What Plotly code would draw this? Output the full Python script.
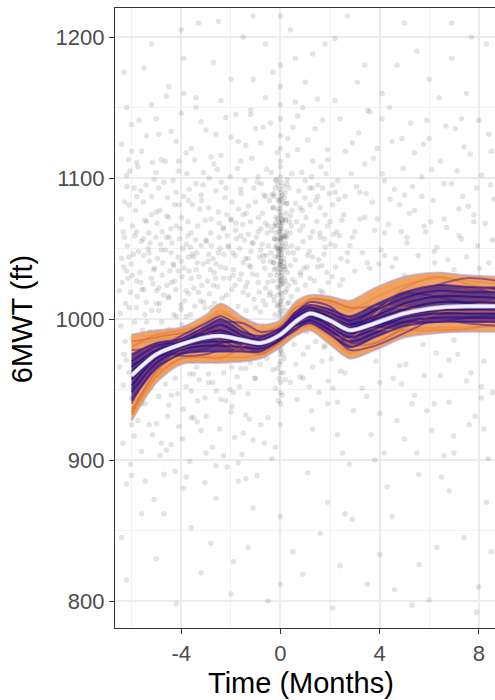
import plotly.graph_objects as go

# ---- observed 6MWT measurements (time in months, distance in ft) ----
cloud = [
    (-6.4,1043),(-6.1,1008),(-5.8,1062),(-5.5,1021),(-5.2,1087),(-6.3,975),(-5.9,951),(-5.4,998),(-5.1,1035),(-6.2,1102),
    (-5.7,1141),(-5.3,925),(-6.0,889),(-5.6,1055),(-5.0,1011),(-6.5,1020),(-5.8,1027),(-5.4,1069),(-6.1,1081),(-5.2,962),
    (-5.9,1093),(-6.4,845),(-5.5,1178),(-5.1,872),(-6.2,1034),(-5.7,988),(-5.3,1047),(-6.0,1119),(-5.6,940),(-5.0,1076),
    (-4.9,1022),(-4.6,1058),(-4.3,1003),(-4.0,1041),(-3.7,1084),(-4.8,968),(-4.5,1015),(-4.2,1066),(-3.9,992),(-3.6,1029),
    (-4.7,1097),(-4.4,946),(-4.1,1112),(-3.8,1053),(-3.5,961),(-4.9,1131),(-4.6,907),(-4.3,1038),(-4.0,1007),(-3.7,1018),
    (-4.8,1049),(-4.5,1072),(-4.2,985),(-3.9,1160),(-3.6,930),(-4.4,1026),(-4.1,1081),(-3.8,1002),(-3.5,1044),(-4.7,862),
    (-4.0,1205),(-3.6,1061),
    (-3.4,1035),(-3.1,1012),(-2.8,1071),(-2.5,1047),(-2.2,1093),(-3.3,978),(-3.0,1056),(-2.7,1024),(-2.4,1116),(-2.1,1004),
    (-3.2,1088),(-2.9,955),(-2.6,1039),(-2.3,1064),(-3.4,1150),(-3.0,931),(-2.7,1182),(-2.4,990),(-2.1,1052),(-3.3,1019),
    (-2.8,1008),(-2.5,1076),(-2.2,942),(-3.1,1104),(-2.6,873),(-2.3,1029),(-2.0,1070),(-3.2,820),(-2.9,1046),(-2.5,1211),
    (-1.9,1031),(-1.6,1059),(-1.3,1017),(-1.0,1083),(-0.7,1045),(-1.8,996),(-1.5,1074),(-1.2,1037),(-0.9,1101),(-0.6,1010),
    (-1.7,1126),(-1.4,965),(-1.1,1054),(-0.8,982),(-0.5,1066),(-1.9,948),(-1.6,1092),(-1.3,1043),(-1.0,1008),(-0.7,1136),
    (-1.8,1068),(-1.5,919),(-1.2,1145),(-0.9,1026),(-0.6,1087),(-1.4,1023),(-1.1,1170),(-0.8,1049),(-1.7,885),(-1.0,958),
    (-0.6,1195),(-1.3,838),(-0.9,1062),(-1.5,1040),(-0.7,995),
    (-0.05,1062),(0.02,1041),(0.0,1019),(-0.1,1078),(0.05,1033),(0.0,1050),(-0.02,1005),(0.08,1068),(0.0,1090),(-0.06,1027),
    (0.03,987),(0.0,1012),(-0.08,1045),(0.06,1058),(0.0,1074),(-0.03,1036),(0.01,996),(0.0,1055),(-0.12,1023),(0.1,1049),
    (0.0,1066),(0.02,978),(-0.04,1002),(0.0,1030),(0.07,1015),(-0.09,1084),(0.0,1046),(0.04,1071),(0.0,962),(-0.02,1039),
    (0.0,1108),(0.05,1025),(-0.07,991),(0.0,1060),(0.12,1037),(0.0,948),(-0.15,1052),(0.0,1121),(0.09,1003),(0.0,1081),
    (-0.1,1010),(0.0,1043),(0.03,1097),(0.0,1028),(-0.2,1068),(0.2,1019),(0.0,940),(0.0,1152),(-0.25,1035),(0.25,1058),
    (0.0,925),(0.0,1180),(0.0,860),(0.0,812),(0.0,1215),(0.0,1006),(-0.01,1064),(0.01,1087),
    (-0.4,1041),(0.4,1073),(-0.35,1088),(0.35,1012),(0.45,1103),(-0.45,1017),(0.3,1128),(-0.3,964),(0.4,955),
    (0.6,1042),(0.9,1066),(1.2,1029),(1.5,1087),(1.8,1051),(0.7,1011),(1.0,1098),(1.3,1062),(1.6,1020),(1.9,1113),
    (0.8,1079),(1.1,1045),(1.4,1135),(1.7,1003),(2.0,1069),(0.6,1154),(0.9,958),(1.2,1081),(1.5,1037),(1.8,981),
    (0.7,1120),(1.0,1024),(1.3,1188),(1.6,1058),(1.9,940),(1.1,891),(1.4,1008),(0.8,1033),(1.7,1093),(0.5,835),
    (2.2,1052),(2.6,1087),(3.0,1034),(3.4,1110),(3.8,1063),(2.4,1142),(2.8,976),(3.2,1071),(3.6,1018),(2.1,1095),
    (2.5,1028),(2.9,1125),(3.3,951),(3.7,1083),(2.3,918),(2.7,1047),(3.1,1168),(3.5,1040),(3.9,1121),(2.2,1199),
    (2.6,862),(3.0,1010),(3.4,1072),(3.8,900),(2.8,1052),(3.6,1147),(2.4,825),(3.2,1090),
    (4.2,1045),(4.6,1092),(5.0,1031),(5.4,1118),(5.8,1066),(4.4,1150),(4.8,967),(5.2,1075),(5.6,1009),(4.1,1103),
    (4.5,1037),(4.9,1128),(5.3,940),(5.7,1087),(4.3,881),(4.7,1180),(5.1,1054),(5.5,905),(5.9,1141),(4.6,808),
    (5.0,1210),(5.4,1022),(4.2,1061),(5.8,960),
    (6.2,1048),(6.6,1096),(7.0,1035),(7.4,1122),(7.8,1069),(8.2,1010),(8.6,1085),(6.4,1157),(6.8,971),(7.2,1078),
    (7.6,925),(8.0,1141),(8.4,1040),(6.1,1106),(6.5,888),(6.9,1185),(7.3,1057),(7.7,1200),(8.1,952),(8.5,1119),
    (6.3,838),(7.1,1012),(7.9,1093),(8.3,870),(6.7,1065),
    (-6.2,815),(-5.0,830),(-4.2,798),(-3.6,852),(-2.0,805),(-1.1,866),(-0.5,800),(0.9,819),(1.6,848),(2.1,795),
    (3.5,812),(4.5,860),(5.6,826),(6.0,801),(7.4,845),(8.0,810),(-3.9,880),(-2.8,841),(1.9,870),(4.0,833),
    (6.8,878),(7.9,792),(-5.6,862),(-1.9,828),(2.9,858),(5.3,797),(8.5,835),
    (-6.0,925),(-4.8,912),(-3.0,905),(-1.4,932),(1.3,922),(2.5,905),(4.0,933),(5.0,915),(6.2,940),(7.0,905),(8.2,922),
    (-6.3,1175),(-5.2,1195),(-4.5,1165),(-3.3,1210),(-2.0,1170),(-1.5,1200),(-0.3,1175),(0.4,1205),(1.0,1168),(1.8,1195),
    (2.7,1215),(3.4,1180),(4.1,1160),(5.5,1190),(6.0,1170),(6.9,1210),(7.5,1160),(8.3,1195),(-1.1,1215),(0.6,1185),
    (2.2,1155),(-3.9,1185),
    # pre-baseline visits, 1000-1060 ft
    (-6.45,1004),(-6.32,1037),(-6.18,1052),(-6.05,1019),(-5.93,1046),(-5.81,1008),(-5.66,1033),(-5.52,1057),(-5.41,1012),(-5.28,1041),
    (-5.14,1025),(-5.02,1058),(-4.91,1006),(-4.77,1031),(-4.63,1049),(-4.52,1016),(-4.38,1054),(-4.27,1027),(-4.13,1044),(-4.01,1010),
    (-3.88,1036),(-3.74,1059),(-3.62,1003),(-3.49,1022),(-3.37,1047),(-3.23,1013),(-3.11,1039),(-2.98,1055),(-2.86,1018),(-2.72,1043),
    (-2.61,1029),(-2.47,1058),(-2.35,1015),(-2.21,1036),(-2.09,1051),(-1.96,1021),(-1.83,1045),(-1.71,1009),(-1.58,1032),(-1.46,1056),
    (-1.33,1026),(-1.19,1048),(-1.07,1014),(-6.38,1026),(-6.11,1044),(-5.87,1059),(-5.59,1021),(-5.33,1050),(-5.08,1036),(-4.84,1053),
    (-4.58,1024),(-4.33,1039),(-4.07,1057),(-3.81,1020),(-3.56,1046),(-3.29,1030),(-3.04,1008),(-2.79,1052),(-2.53,1023),(-2.28,1046),
    (-2.02,1005),(-1.77,1057),(-1.51,1019),(-1.26,1038),(-6.24,1011),(-5.98,1031),(-5.72,1048),(-5.46,1003),(-5.21,1029),(-4.96,1043),
    (-4.71,1017),(-4.46,1034),(-4.19,1002),(-3.94,1050),(-3.68,1034),(-3.43,1056),(-3.17,1024),(-2.92,1041),(-2.66,1011),(-2.41,1037),
    (-2.15,1059),(-1.89,1035),(-1.64,1050),(-1.39,1006),(-1.13,1032),(-6.29,1058),(-5.77,1016),(-5.25,1054),(-4.74,1040),(-4.22,1021),
    (-3.71,1044),(-3.19,1052),(-2.68,1033),(-2.17,1017),(-1.65,1028),(-1.14,1054),(-6.02,1039),(-5.51,1045),(-4.99,1020),(-4.48,1058),
    (-3.97,1030),(-3.45,1009),(-2.94,1027),(-2.43,1050),(-1.92,1047),(-1.41,1043),(-5.63,1026),(-4.87,1011),(-4.11,1034),(-3.35,1040),
    (-2.59,1004),(-1.83,1024),(-5.19,1006),(-4.41,1047),(-3.63,1051),(-2.83,1035),(-2.06,1029),(-1.29,1060),(-6.15,1029),(-3.86,1013),
    # pre-baseline visits, 1060-1115 ft
    (-6.41,1071),(-6.19,1094),(-5.96,1066),(-5.74,1108),(-5.53,1083),(-5.31,1061),(-5.09,1099),(-4.86,1077),(-4.64,1112),(-4.42,1064),
    (-4.21,1090),(-3.99,1072),(-3.77,1103),(-3.55,1081),(-3.33,1066),(-3.12,1095),(-2.9,1079),(-2.68,1110),(-2.46,1068),(-2.24,1086),
    (-2.03,1101),(-1.81,1063),(-1.59,1089),(-1.37,1075),(-1.16,1114),(-6.28,1083),(-5.85,1077),(-5.42,1095),(-4.98,1068),(-4.55,1086),
    (-4.12,1105),(-3.68,1092),(-3.25,1078),(-2.81,1061),(-2.38,1097),(-1.95,1083),(-1.52,1067),(-1.08,1093),(-6.07,1105),(-5.63,1091),
    (-5.2,1074),(-4.77,1062),(-4.33,1098),(-3.9,1087),(-3.46,1113),(-3.03,1070),(-2.6,1091),(-2.16,1074),(-1.73,1107),(-1.29,1080),
    (-6.34,1062),(-5.79,1087),(-5.16,1111),(-4.59,1073),(-4.03,1064),(-3.41,1096),(-2.87,1100),(-2.31,1065),(-1.69,1078),(-1.21,1069),
    (-6.12,1113),(-5.47,1070),(-4.91,1093),(-4.27,1081),(-3.72,1069),(-3.18,1084),(-2.55,1106),(-1.99,1071),(-1.44,1098),(-5.01,1104),
    # pre-baseline visits, 935-1000 ft
    (-6.43,995),(-6.21,971),(-5.99,986),(-5.78,959),(-5.56,992),(-5.34,967),(-5.12,981),(-4.9,945),(-4.69,976),(-4.47,993),
    (-4.25,958),(-4.03,972),(-3.82,987),(-3.6,949),(-3.38,966),(-3.16,990),(-2.95,973),(-2.73,955),(-2.51,984),(-2.29,962),
    (-2.08,997),(-1.86,977),(-1.64,952),(-1.42,988),(-1.21,969),(-6.33,953),(-5.88,998),(-5.45,940),(-5.01,963),(-4.58,985),
    (-4.14,947),(-3.71,979),(-3.27,957),(-2.84,994),(-2.4,943),(-1.97,966),(-1.53,981),(-1.1,996),(-6.11,962),(-5.67,976),
    (-5.23,951),(-4.79,998),(-4.36,968),(-3.92,936),(-3.49,983),(-3.05,944),(-2.62,970),(-2.18,980),(-1.75,959),(-1.31,947),
    (-6.26,984),(-5.6,947),(-4.96,989),(-4.31,979),(-3.66,961),(-3.0,999),(-2.35,975),(-1.7,991),(-1.05,958),(-5.9,969),
    (-5.27,991),(-4.63,954),(-3.98,996),(-3.34,942),(-2.69,988),(-2.04,950),(-1.4,974),(-6.48,966),(-5.4,983),(-4.5,939),
    (-3.55,970),(-2.58,949),(-1.6,965),(-4.09,985),(-2.9,961),(-5.14,956),(-1.95,938),(-3.8,952),(-6.0,944),(-1.25,985),
    # visits around baseline
    (-0.95,1031),(-0.88,1072),(-0.81,1005),(-0.74,1053),(-0.67,1088),(-0.6,1022),(-0.53,1061),(-0.46,994),(-0.39,1047),(-0.32,1079),
    (-0.25,1013),(-0.19,1098),(0.18,1035),(0.24,1082),(0.31,1047),(0.37,1003),(0.44,1066),(0.49,1028),(-0.91,987),(-0.84,1044),
    (-0.77,1096),(-0.7,1013),(-0.63,1036),(-0.56,1106),(-0.49,1052),(-0.42,1019),(-0.35,1063),(-0.28,1040),(-0.22,984),(0.21,1059),
    (0.27,1011),(0.34,1093),(0.41,1038),(0.47,1077),(-0.97,1058),(-0.86,1019),(-0.72,1075),(-0.58,1045),(-0.44,1084),(-0.3,1027),
    (0.2,1071),(0.33,1024),(0.46,1052),(-0.93,1097),(-0.79,1064),(-0.65,992),(-0.51,1026),(-0.37,1104),(-0.23,1057),(0.26,1096),
    (0.39,1061),(-0.83,968),(-0.69,1041),(-0.55,972),(-0.41,1031),(-0.27,1089),(0.23,990),(0.36,1069),(0.43,1016),(-0.61,1068),
    (-0.28,1016),(-0.24,1057),(-0.2,1093),(-0.16,1031),(-0.12,1071),(-0.08,1049),(-0.04,1084),(0.0,1038),(0.04,1064),(0.08,1008),
    (0.12,1043),(0.16,1086),(0.2,1027),(0.24,1062),(0.28,1099),(-0.26,1040),(-0.22,1003),(-0.18,1061),(-0.14,1118),(-0.1,1044),
    (-0.06,1022),(-0.02,1076),(0.02,1052),(0.06,1031),(0.1,1083),(0.14,1059),(0.18,1037),(0.22,1075),(0.26,1051),(0.0,1068),
    (-0.28,1079),(-0.2,1051),(-0.12,1009),(-0.04,1058),(0.04,1018),(0.12,1094),(0.2,1054),(0.28,1033),(-0.24,1087),(-0.16,1066),
    (-0.08,1033),(0.0,1078),(0.08,1052),(0.16,1040),(0.24,1021),(0.0,998),(0.0,1024),(0.0,1057),(0.0,1101),(0.0,1035),
    (-0.02,975),(0.02,1013),(-0.06,1048),(0.06,1070),(-0.1,1095),(0.1,1000),(-0.14,1056),(0.14,1029),(-0.18,1072),(0.18,1090),
    (-0.22,1044),(0.22,1006),(-0.26,1066),(0.26,1082),(0.0,955),(0.0,970),(0.0,1130),(0.0,1142),(0.0,1165),(0.0,1112),
    (0.04,1046),(-0.04,1069),(0.08,1088),(-0.08,1017),(0.12,1025),(-0.12,1050),(0.16,1058),(-0.16,1099),(0.2,1070),(-0.2,1036),
    (0.0,1010),(0.0,1041),(0.0,1062),(0.0,1085),(0.0,1049),(0.02,1027),(-0.02,1092),(0.02,1073),(-0.02,1039),(0.02,1056),
    (-0.05,958),(0.07,946),(-0.12,965),(0.15,972),(-0.2,951),(0.03,985),(-0.09,942),(0.11,962),(0.0,978),(-0.03,968),
    (0.06,992),(-0.16,980),(0.19,957),(-0.07,989),(0.09,975),
    # early follow-up, 0.5-2.5 months
    (0.52,1047),(0.61,1082),(0.69,1021),(0.78,1063),(0.86,1104),(0.95,1036),(1.03,1072),(1.12,1015),(1.2,1058),(1.29,1093),
    (1.37,1027),(1.46,1069),(1.54,1042),(1.63,1108),(1.71,1019),(1.8,1074),(1.88,1033),(1.97,1089),(2.05,1011),(2.14,1060),
    (2.22,1037),(2.31,1098),(2.39,1024),(2.47,1070),(0.56,1003),(0.74,1091),(0.91,1055),(1.08,1037),(1.25,1101),(1.42,1084),
    (1.59,1061),(1.76,1046),(1.93,1026),(2.1,1081),(2.27,1062),(2.44,1043),(0.65,1069),(0.82,1031),(0.99,1086),(1.16,1048),
    (1.33,1005),(1.5,1095),(1.67,1038),(1.84,1103),(2.01,1053),(2.18,1009),(2.35,1085),(0.58,1026),(0.88,1077),(1.18,1093),
    (1.48,1012),(1.78,1057),(2.08,1030),(2.38,1059),(0.7,1050),(1.0,1008),(1.3,1044),(1.6,1079),(1.9,1066),(2.2,1090),
    (0.55,982),(0.8,959),(1.05,991),(1.3,966),(1.55,948),(1.8,995),(2.05,972),(2.3,941),(0.67,943),(0.92,975),
    (1.17,952),(1.42,984),(1.67,970),(1.92,956),(2.17,989),(2.42,963),(0.75,997),(1.25,935),(1.75,980),(2.25,999),
    (0.62,968),(1.1,980),(1.6,992),(2.12,951),(2.45,978),
    # later follow-up
    (2.55,1074),(2.7,1041),(2.85,1103),(3.0,1062),(3.15,1132),(3.3,1047),(3.45,1089),(3.6,1036),(3.75,1114),(3.9,1071),
    (4.05,1049),(4.2,1098),(4.35,1067),(4.5,1126),(4.65,1043),(4.8,1081),(4.95,1107),(5.1,1058),(5.25,1139),(5.4,1077),
    (5.55,1045),(5.7,1101),(5.85,1062),(6.0,1128),(6.15,1084),(6.3,1051),(6.45,1112),(6.6,1071),(6.75,1042),(6.9,1096),
    (7.05,1135),(7.2,1059),(7.35,1087),(7.5,1044),(7.65,1117),(7.8,1074),(7.95,1052),(8.1,1102),(8.25,1068),(8.4,1131),
    (8.55,1056),(2.62,1119),(3.07,1094),(3.52,1148),(3.97,1039),(4.42,1085),(4.87,1062),(5.32,1094),(5.77,1124),(6.22,1040),
    (6.67,1137),(7.12,1105),(7.57,1080),(8.02,1036),(8.47,1095),(2.9,1058),(4.1,1142),(5.0,1088),(6.05,1069),(7.3,1142),
    (2.6,962),(2.95,935),(3.3,978),(3.65,918),(4.0,955),(4.35,984),(4.7,928),(5.05,968),(5.4,946),(5.75,982),
    (6.1,921),(6.45,960),(6.8,941),(7.15,975),(7.5,956),(7.85,931),(8.2,970),(8.55,948),(2.78,897),(3.48,945),
    (4.18,905),(4.88,954),(5.58,890),(6.28,976),(6.98,917),(7.68,962),(8.38,901),(3.12,975),(4.55,958),(5.9,935),
    (7.0,985),(8.1,944),(3.85,970),(6.6,903),(2.7,980),
    # low walkers before baseline
    (-6.35,912),(-6.05,897),(-5.75,928),(-5.45,885),(-5.15,918),(-4.85,903),(-4.55,931),(-4.25,892),(-3.95,915),(-3.65,899),
    (-3.35,927),(-3.05,884),(-2.75,909),(-2.45,922),(-2.15,895),(-1.85,916),(-1.55,904),(-1.25,929),(-0.95,889),(-0.65,912),
    (-0.35,901),(-6.2,883),(-5.6,906),(-5.0,926),(-4.4,911),(-3.8,888),(-3.2,921),(-2.6,896),(-2.0,934),(-1.4,887),
    (-0.8,925),(-0.2,909),(-5.9,917),(-4.7,890),(-3.5,930),(-2.3,903),(-1.1,914),(-0.5,930),(-4.1,924),(-1.7,898),
    # high walkers
    (-6.4,1124),(-6.0,1138),(-5.6,1119),(-5.2,1152),(-4.8,1113),(-4.4,1133),(-4.0,1146),(-3.6,1121),(-3.2,1140),(-2.8,1115),
    (-2.4,1155),(-2.0,1129),(-1.6,1112),(-1.2,1148),(-0.8,1125),(-0.4,1139),(0.3,1116),(0.7,1144),(1.1,1127),(1.5,1156),
    (1.9,1120),(-6.2,1150),(-5.4,1130),(-4.6,1158),(-3.8,1118),(-3.0,1134),(-2.2,1143),(-1.4,1123),(-0.6,1157),(0.5,1136),
    (1.3,1112),(1.7,1141),(-5.8,1111),(-5.0,1142),(-4.2,1126),(-3.4,1157),(-2.6,1131),(-1.8,1145),(-1.0,1135),(0.9,1150),
]
cloud_x = [p[0] for p in cloud]
cloud_y = [p[1] for p in cloud]

# ---- fitted trajectory: knots, mean curve and posterior envelope ----
knots = [-6, -5, -4, -3, -2.4, -1.5, -0.8, 0, 0.6, 1.2, 2, 2.8, 3.8, 5, 6.3, 7.5, 8.8]
mean_fit = [960, 975, 982, 987, 988, 985, 983, 989, 998, 1004, 999, 992, 997, 1004, 1008, 1009, 1009]
band_upper = [989, 992, 994, 1003, 1011, 1001, 996, 999, 1012, 1017, 1016, 1013, 1022, 1030, 1033, 1031, 1030]
band_lower = [928, 955, 968, 969, 969, 970, 972, 980, 988, 992, 982, 972, 978, 987, 990, 991, 991]

# posterior draws, as deviations (ft) from the mean curve at each knot
draw_offsets = [
    [28, 16, 11, 15, 22, 14, 12, 9, 13, 12, 16, 20, 24, 25, 24, 21, 20],
    [-31, -19, -13, -17, -18, -14, -10, -8, -9, -11, -16, -19, -18, -16, -17, -17, -17],
    [22, 10, 6, 12, 18, 10, 8, 6, 10, 9, 12, 14, 18, 20, 21, 18, 16],
    [-24, -14, -10, -14, -15, -12, -8, -6, -7, -9, -12, -16, -14, -12, -14, -15, -14],
    [20, 14, 10, 10, 16, 12, 6, 2, -4, -8, -10, -6, 6, 18, 22, 16, 10],
    [-28, -16, -10, -14, -16, -4, 6, 7, 10, 6, 4, 2, -4, -12, -16, -16, -12],
    [-26, -12, -4, 0, -2, -6, -8, -5, -2, 2, -2, -10, -14, -10, -4, 0, 4],
    [24, 12, 8, 4, -4, -8, -6, 0, 6, 10, 14, 16, 12, 4, -2, -4, -4],
    [18, 4, -3, 2, 6, -2, -4, -2, 2, 0, -4, -8, -2, 6, 10, 12, 14],
    [-20, -4, 4, 6, 2, 4, 3, 2, 1, 4, 6, 8, 4, -2, -6, -9, -10],
    [12, 2, -8, -12, -10, -6, -1, 2, 4, 0, -6, -4, 4, 10, 16, 20, 18],
    [-16, -8, 0, 6, 10, 12, 8, 4, 2, -2, -8, -14, -16, -14, -8, -12, -14],
    [15, 8, 4, 8, 12, 6, 5, 4, 7, 6, 8, 10, 13, 15, 16, 14, 13],
    [-18, -10, -7, -10, -11, -8, -6, -4, -5, -7, -10, -12, -10, -9, -10, -11, -11],
    [8, -2, -6, -8, -5, 0, 4, 5, 6, 8, 10, 6, 0, -6, -10, -8, -6],
    [-10, 2, 6, 10, 14, 8, 2, -3, -6, -4, 0, 4, 10, 14, 8, 2, -2],
    [10, 6, 2, 5, 8, 3, 2, 3, 5, 4, 5, 7, 9, 11, 12, 10, 10],
    [-12, -6, -4, -6, -7, -5, -4, -3, -3, -5, -7, -8, -7, -6, -7, -8, -8],
    [6, 3, 1, 3, 4, 1, 0, 1, 3, 2, 3, 4, 5, 7, 8, 7, 6],
    [-7, -3, -2, -3, -4, -2, -2, -1, -1, -2, -4, -5, -4, -3, -4, -5, -5],
    [3, 1, 0, 1, 2, 0, 1, 0, 1, 1, 1, 2, 3, 3, 4, 3, 3],
    [-3, -1, -1, -1, -2, -1, -1, 0, 0, -1, -2, -2, -2, -1, -2, -2, -2],
]
draw_colors = [
    "#F7A858", "#F3A052", "#EE8E48", "#EA8A46", "#E98442", "#E6803F",
    "#D8703E", "#D46C40", "#9A4170", "#8C3A76", "#7A3380", "#6E2E84",
    "#3A1888", "#361686", "#4A1E8A", "#44208C", "#2C0F82", "#2A0E80",
    "#220B7C", "#230C7E", "#1E0A78", "#1F0A7A",
]
core_upper_idx, core_lower_idx = 12, 13   # draws bounding the dense central core

x_ticks = [-4, 0, 4, 8]
x_tick_text = ["-4", "0", "4", "8"]
x_minor = [-6, -2, 2, 6]
y_ticks = [800, 900, 1000, 1100, 1200]
y_minor = [850, 950, 1050, 1150]

FONT = "Liberation Sans, Arial, Helvetica, sans-serif"
SPL = dict(shape="spline", smoothing=0.8)

fig = go.Figure()

fig.add_trace(go.Scatter(
    x=cloud_x, y=cloud_y, mode="markers",
    marker=dict(size=5.5, color="rgba(0,0,0,0.11)", line=dict(width=0)),
    hoverinfo="skip", showlegend=False,
))

# posterior envelope
edge = dict(color="rgba(150,150,235,0.55)", width=2.2, **SPL)
fig.add_trace(go.Scatter(x=knots, y=band_lower, mode="lines", line=edge,
                         hoverinfo="skip", showlegend=False))
fig.add_trace(go.Scatter(x=knots, y=band_upper, mode="lines", line=edge,
                         fill="tonexty", fillcolor="rgba(240,152,80,0.9)",
                         hoverinfo="skip", showlegend=False))

# dense central core of the draws
core_lo = [m + d for m, d in zip(mean_fit, draw_offsets[core_lower_idx])]
core_hi = [m + d for m, d in zip(mean_fit, draw_offsets[core_upper_idx])]
fig.add_trace(go.Scatter(x=knots, y=core_lo, mode="lines", line=dict(width=0, **SPL),
                         hoverinfo="skip", showlegend=False))
fig.add_trace(go.Scatter(x=knots, y=core_hi, mode="lines", line=dict(width=0, **SPL),
                         fill="tonexty", fillcolor="rgba(52,22,135,0.72)",
                         hoverinfo="skip", showlegend=False))

for offs, col in zip(draw_offsets, draw_colors):
    fig.add_trace(go.Scatter(
        x=knots, y=[m + d for m, d in zip(mean_fit, offs)], mode="lines",
        line=dict(color=col, width=2, **SPL),
        opacity=0.7, hoverinfo="skip", showlegend=False,
    ))

fig.add_trace(go.Scatter(x=knots, y=mean_fit, mode="lines",
                         line=dict(color="#BDBDE6", width=4.5, **SPL),
                         hoverinfo="skip", showlegend=False))
fig.add_trace(go.Scatter(x=knots, y=mean_fit, mode="lines",
                         line=dict(color="#F2F2FA", width=2.8, **SPL),
                         hoverinfo="skip", showlegend=False))

axis_common = dict(
    showline=True, linecolor="#333333", linewidth=1.3,
    ticks="outside", ticklen=5, tickwidth=1.3, tickcolor="#333333",
    showgrid=True, gridcolor="#EBEBEB", gridwidth=1.6, zeroline=False,
    tickfont=dict(family=FONT, size=22, color="#4D4D4D"),
)

fig.update_layout(
    width=495, height=700,
    margin=dict(l=115, r=0, t=8, b=72),
    paper_bgcolor="white", plot_bgcolor="white",
    font=dict(family=FONT),
    xaxis=dict(range=[-6.67, 8.65], tickvals=x_ticks, ticktext=x_tick_text, mirror=True,
               minor=dict(tickvals=x_minor, showgrid=True, gridcolor="#F2F2F2", gridwidth=0.9, ticks=""),
               **axis_common),
    yaxis=dict(range=[780.9, 1220.6], tickvals=y_ticks,
               minor=dict(tickvals=y_minor, showgrid=True, gridcolor="#F2F2F2", gridwidth=0.9, ticks=""),
               **axis_common),
    annotations=[
        dict(text="Time (Months)", xref="paper", yref="paper", x=0.49, y=-0.088,
             xanchor="center", yanchor="middle", showarrow=False,
             font=dict(family=FONT, size=29, color="black")),
        dict(text="6MWT (ft)", xref="paper", yref="paper", x=-0.245, y=0.498,
             xanchor="center", yanchor="middle", textangle=-90, showarrow=False,
             font=dict(family=FONT, size=29, color="black")),
    ],
)

fig.write_html("out.html")
